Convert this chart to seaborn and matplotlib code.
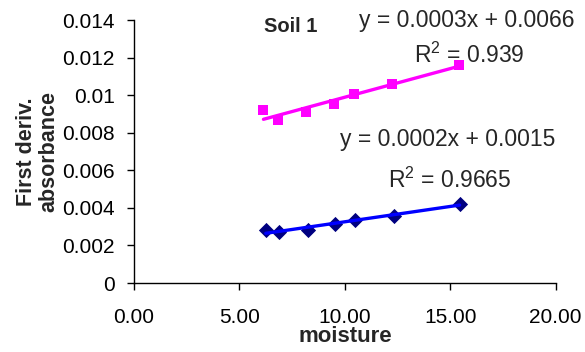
import numpy as np
import pandas as pd
import matplotlib
matplotlib.use("Agg")
import matplotlib.pyplot as plt
import seaborn as sns

# Moisture content and first-derivative absorbance for two bands (Soil 1)
moisture_upper = [6.14, 6.84, 8.16, 9.50, 10.42, 12.22, 15.39]
absorb_upper = [0.00923, 0.00866, 0.00912, 0.00951, 0.01008, 0.01061, 0.01163]
moisture_lower = [6.25, 6.89, 8.23, 9.55, 10.48, 12.32, 15.44]
absorb_lower = [0.00283, 0.00272, 0.00281, 0.00316, 0.00336, 0.00357, 0.00423]

eq_upper = "y = 0.0003x + 0.0066"
r2_upper = "0.939"
eq_lower = "y = 0.0002x + 0.0015"
r2_lower = "0.9665"

x_ticks = [0, 5, 10, 15, 20]
y_ticks = [0, 0.002, 0.004, 0.006, 0.008, 0.01, 0.012, 0.014]
y_tick_labels = ["0", "0.002", "0.004", "0.006", "0.008", "0.01", "0.012", "0.014"]

sns.set_theme(style="white")
plt.rcParams["font.family"] = ["Liberation Sans", "DejaVu Sans"]
plt.rcParams["mathtext.fontset"] = "custom"
plt.rcParams["mathtext.rm"] = "Liberation Sans"
plt.rcParams["mathtext.it"] = "Liberation Sans:italic"

df_up = pd.DataFrame({"moisture": moisture_upper, "absorbance": absorb_upper})
df_lo = pd.DataFrame({"moisture": moisture_lower, "absorbance": absorb_lower})

fig = plt.figure(figsize=(5.85, 3.52), dpi=100)
ax = fig.add_axes([0.229, 0.196, 0.721, 0.747])

# data markers
sns.scatterplot(data=df_up, x="moisture", y="absorbance", ax=ax, marker="s",
                color="#FF00FF", s=60, edgecolor="#FF00FF", linewidth=0, zorder=3)
sns.scatterplot(data=df_lo, x="moisture", y="absorbance", ax=ax, marker="D",
                color="#000080", s=60, edgecolor="#000080", linewidth=0, zorder=3)

# linear trend lines
sns.regplot(data=df_up, x="moisture", y="absorbance", ax=ax, scatter=False, ci=None,
            color="#FF00FF", line_kws={"linewidth": 2.4, "zorder": 4})
sns.regplot(data=df_lo, x="moisture", y="absorbance", ax=ax, scatter=False, ci=None,
            color="#0000FF", line_kws={"linewidth": 2.4, "zorder": 4})

ax.set_xlim(0, 20)
ax.set_ylim(0, 0.014)
ax.set_xticks(x_ticks)
ax.set_xticklabels([f"{v:.2f}" for v in x_ticks], fontsize=15)
ax.set_yticks(y_ticks)
ax.set_yticklabels(y_tick_labels, fontsize=15)
ax.tick_params(axis="both", direction="out", length=5, width=1, color="black",
               bottom=True, left=True, labelcolor="black")
ax.tick_params(axis="y", pad=9)
ax.tick_params(axis="x", pad=13)

for side in ["top", "right"]:
    ax.spines[side].set_visible(False)
for side in ["left", "bottom"]:
    ax.spines[side].set_color("black")
    ax.spines[side].set_linewidth(1)

ax.set_xlabel("moisture", fontsize=16, fontweight="bold", labelpad=-1)
ax.set_ylabel("First deriv.\nabsorbance", fontsize=15.5, fontweight="bold",
              labelpad=2, linespacing=1.05)

ax.text(7.45, 0.01368, "Soil 1", fontsize=14.5, fontweight="bold", ha="center", va="center")
ax.text(15.76, 0.01400, eq_upper, fontsize=16.5, ha="center", va="center")
ax.text(15.9, 0.01214, r"R$^2$ = " + r2_upper, fontsize=16.5, ha="center", va="center")
ax.text(14.87, 0.00762, eq_lower, fontsize=16.5, ha="center", va="center")
ax.text(14.96, 0.00549, r"R$^2$ = " + r2_lower, fontsize=16.5, ha="center", va="center")

fig.savefig("out.png", dpi=100)
